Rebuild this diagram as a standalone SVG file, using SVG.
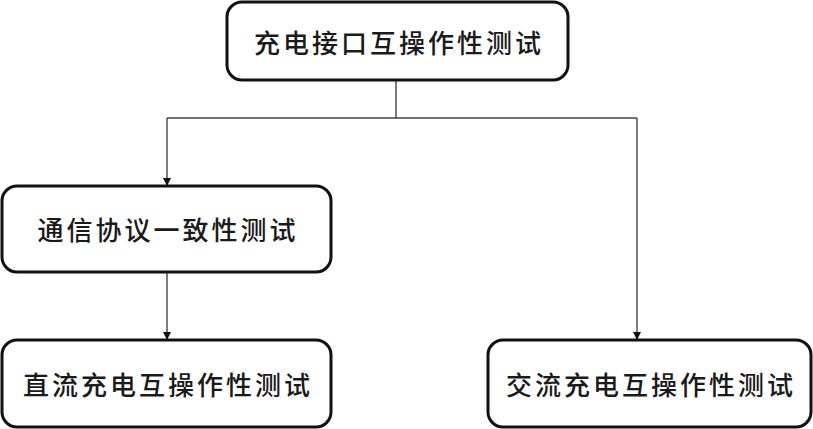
<svg xmlns="http://www.w3.org/2000/svg" width="813" height="429" viewBox="0 0 813 429">
<style>
.box{fill:#fff;stroke:#111;stroke-width:3}
.lbl{font-family:"Noto Sans CJK SC","Noto Sans CJK TC",sans-serif;font-size:26px;font-weight:500;letter-spacing:3px;fill:#1a1a1a;text-anchor:middle;dominant-baseline:central}
.con{fill:none;stroke:#444;stroke-width:1.4}
</style>
<defs>
<marker id="arr" viewBox="0 0 8 14" refX="8" refY="7" markerWidth="8" markerHeight="14" markerUnits="userSpaceOnUse" orient="auto">
<path d="M0,3 L8,7 L0,11 Z" fill="#111"/>
</marker>
</defs>
<rect width="813" height="429" fill="#fff"/>
<g id="connectors">
<path class="con" d="M396,80 V118"/>
<path class="con" d="M167,118 H637"/>
<path class="con" d="M167,118 V186" marker-end="url(#arr)"/>
<path class="con" d="M637,118 V340" marker-end="url(#arr)"/>
<path class="con" d="M167,272 V340" marker-end="url(#arr)"/>
</g>
<g id="n_top">
<rect class="box" x="227" y="2" width="341" height="78" rx="15"/>
<text class="lbl" x="399" y="41">充电接口互操作性测试</text>
</g>
<g id="n_comm">
<rect class="box" x="2" y="186" width="329" height="86" rx="15"/>
<text class="lbl" x="168" y="228">通信协议一致性测试</text>
</g>
<g id="n_dc">
<rect class="box" x="2" y="340" width="329" height="87" rx="15"/>
<text class="lbl" x="168" y="383">直流充电互操作性测试</text>
</g>
<g id="n_ac">
<rect class="box" x="488" y="340" width="323" height="87" rx="15"/>
<text class="lbl" x="651" y="383">交流充电互操作性测试</text>
</g>
</svg>
